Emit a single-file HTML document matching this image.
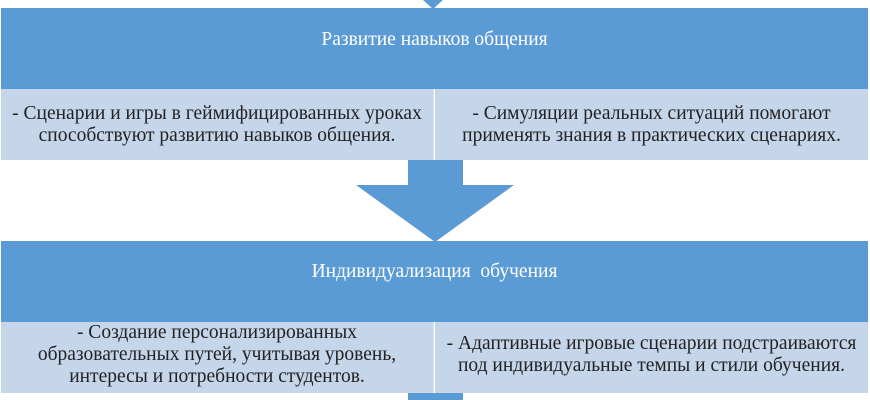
<!DOCTYPE html>
<html><head><meta charset="utf-8"><style>
body{margin:0;width:870px;height:400px;background:#fff;position:relative;overflow:hidden;font-family:"Liberation Serif",serif}
.h{position:absolute;left:1px;width:867px;background:#5b9bd5;color:#fff;font-size:19.5px;text-align:center}
.s{position:absolute;background:#c5d5ea;color:#222;font-size:19.5px;line-height:22px;text-align:center;display:flex;align-items:center;justify-content:center;box-sizing:border-box;padding:0 2px;white-space:nowrap}
</style></head><body>
<svg style="position:absolute;left:0;top:0" width="870" height="400">
<polygon points="423,0 443,0 433,9" fill="#5b9bd5"/>
<rect x="408" y="160" width="55" height="26" fill="#5b9bd5"/>
<polygon points="356,185 514,185 435,242" fill="#5b9bd5"/>
<rect x="408" y="393" width="55" height="7" fill="#5b9bd5"/>
</svg>
<div class="h" style="top:8px;height:81px"><div style="margin-top:21px">Развитие навыков общения</div></div>
<div class="s" style="left:1px;top:89px;width:433px;height:71px;border-right:1px solid #dde6f2">- Сценарии и игры в геймифицированных уроках<br>способствуют развитию навыков общения.</div>
<div class="s" style="left:435px;top:89px;width:433px;height:71px">- Симуляции реальных ситуаций помогают<br>применять знания в практических сценариях.</div>
<div class="h" style="top:241px;height:81px"><div style="margin-top:20px">Индивидуализация&nbsp; обучения</div></div>
<div class="s" style="left:1px;top:322px;width:433px;height:71px;border-right:1px solid #dde6f2;align-items:flex-start;padding-top:0">- Создание персонализированных<br>образовательных путей, учитывая уровень,<br>интересы и потребности студентов.</div>
<div class="s" style="left:435px;top:322px;width:433px;height:71px;padding-bottom:6px">- Адаптивные игровые сценарии подстраиваются<br>под индивидуальные темпы и стили обучения.</div>
</body></html>
